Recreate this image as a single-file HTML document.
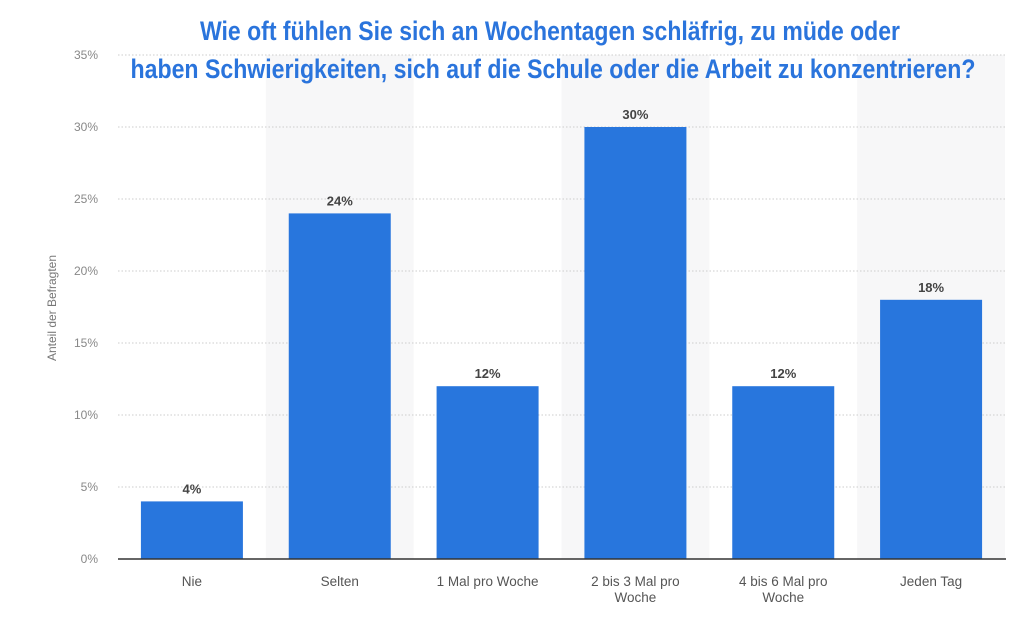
<!DOCTYPE html>
<html><head><meta charset="utf-8"><style>
html,body{margin:0;padding:0;background:#fff;}
svg{display:block;font-family:"Liberation Sans",sans-serif;}
</style></head><body>
<svg id="chart" width="1024" height="621" viewBox="0 0 1024 621">
<g id="bands"></g><g id="grid"></g><g id="bars"></g><g id="labels"></g>
<line x1="118" y1="559" x2="1006" y2="559" stroke="#333" stroke-width="1.5"/>
<text x="0" y="0" transform="translate(56,308) rotate(-90)" text-anchor="middle" font-size="12" fill="#777">Anteil der Befragten</text>
<g fill="#2a74dc" font-weight="bold" font-size="27" text-anchor="middle">
<text x="550" y="40" textLength="700" lengthAdjust="spacingAndGlyphs">Wie oft fühlen Sie sich an Wochentagen schläfrig, zu müde oder</text>
<text x="553" y="78" textLength="845" lengthAdjust="spacingAndGlyphs">haben Schwierigkeiten, sich auf die Schule oder die Arbeit zu konzentrieren?</text>
</g>
</svg>
<script>
const categories=["Nie","Selten","1 Mal pro Woche","2 bis 3 Mal pro Woche","4 bis 6 Mal pro Woche","Jeden Tag"];
const catLines=[["Nie"],["Selten"],["1 Mal pro Woche"],["2 bis 3 Mal pro","Woche"],["4 bis 6 Mal pro","Woche"],["Jeden Tag"]];
const values=[4,24,12,30,12,18];
const valueLabels=["4%","24%","12%","30%","12%","18%"];
const yTicks=[0,5,10,15,20,25,30,35];
const yTickLabels=["0%","5%","10%","15%","20%","25%","30%","35%"];
const NS="http://www.w3.org/2000/svg";
const x0=118,x1=1005,y0=559,yTop=55,yMax=35;
const band=(x1-x0)/categories.length;
const xPos=i=>x0+i*band;
const yPos=v=>y0-(v/yMax)*(y0-yTop);
function mk(tag,attrs,parent){const e=document.createElementNS(NS,tag);for(const k in attrs)e.setAttribute(k,attrs[k]);parent.appendChild(e);return e;}
const gB=document.getElementById('bands'),gG=document.getElementById('grid'),gR=document.getElementById('bars'),gL=document.getElementById('labels');
categories.forEach((c,i)=>{if(i%2===1){const r=mk('rect',{x:xPos(i),y:yTop,width:band,height:y0-yTop,fill:'#f7f7f8'},gB);

}});
yTicks.forEach((t,i)=>{const y=yPos(t);
if(t>0){const l=mk('line',{x1:x0,x2:x1,y1:y,y2:y,stroke:'#ccc','stroke-dasharray':'1.5,2'},gG);

}
const tx=mk('text',{x:98,y:y+4,'text-anchor':'end','font-size':'12',fill:'#888'},gG);tx.textContent=yTickLabels[i];

});
const bw=102;
values.forEach((v,i)=>{const cx=xPos(i)+band/2;
const r=mk('rect',{x:cx-bw/2,y:yPos(v),width:bw,height:y0-yPos(v),fill:'#2876dd'},gR);


const t=mk('text',{x:cx,y:yPos(v)-8,'text-anchor':'middle','font-size':'13','font-weight':'bold',fill:'#444'},gL);t.textContent=valueLabels[i];


catLines[i].forEach((ln,j)=>{const c=mk('text',{x:cx,y:586+j*16,'text-anchor':'middle','font-size':'13.5',fill:'#555'},gL);c.textContent=ln;

});});
</script>
</body></html>
